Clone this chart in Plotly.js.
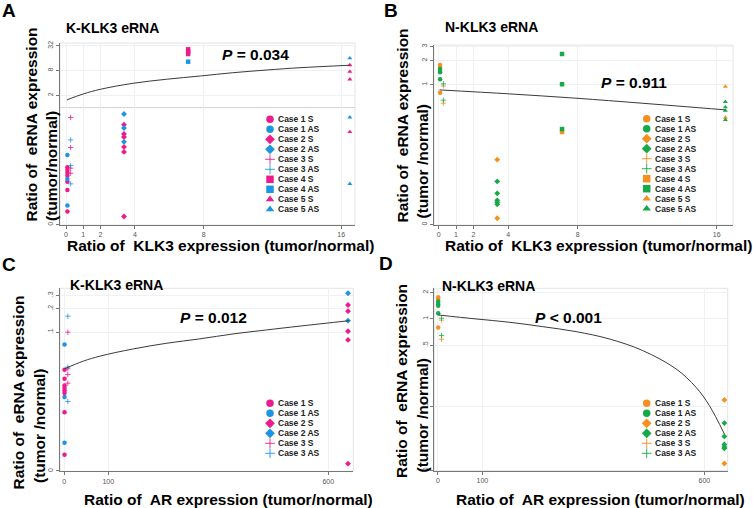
<!DOCTYPE html>
<html><head><meta charset="utf-8">
<script src="https://cdn.plot.ly/plotly-3.0.1.min.js"></script>
<style>html,body{margin:0;padding:0;background:#fff}#chart{width:753px;height:508px}</style>
</head><body><div id="chart"></div>
<script>
// ---------------- DATA ----------------
const caseNames = ['Case 1', 'Case 2', 'Case 3', 'Case 4', 'Case 5'];
const caseSymbols = ['circle', 'diamond', 'cross-thin-open', 'square', 'triangle-up'];

// x value of each case (ratio of KLK3 expression / ratio of AR expression)
const klk3X = [0.08, 3.37, 0.27, 7.1, 16.5];
const arX = [0.5, 645, 8];

// Panel A: K-KLK3 eRNA vs KLK3
const aS = [[0.035, 0.030, 0.0256, 0.0216, 0.0156, 0.0098, 0.0029],
            [0.384, 0.228, 0.192, 0.11, 0.083, 0.0022],
            [0.574, 0.106, 0.0333, 0.0251],
            [26.4, 23.1, 20.3],
            [10.9, 7.5, 4.9, 0.255]];
const aAS = [[0.070, 0.0182, 0.0041],
             [0.70, 0.318, 0.146],
             [0.163, 0.0385, 0.0138],
             [13.2],
             [16.0, 0.58, 0.0138]];
const aTrendX = [0.05, 1.0, 2.0, 3.9, 5.85, 7.8, 9.7, 11.7, 13.6, 16.5];
const aTrendY = [1.54, 2.15, 2.80, 3.92, 4.92, 5.90, 7.1, 8.28, 9.4, 10.8];

// Panel B: N-KLK3 eRNA vs KLK3
const bS = [[1.77, 1.69, 0.80],
            [0.118, 0.0221],
            [0.97, 0.593],
            [0.26],
            [0.953, 0.394]];
const bAS = [[1.58, 1.49, 1.44, 1.18],
             [0.0634, 0.0451, 0.0369, 0.0349, 0.0329],
             [1.03, 0.646],
             [2.42, 1.02, 0.283],
             [0.616, 0.529, 0.48, 0.368]];
const bTrendX = [0.05, 4.07, 7.9, 11.7, 16.5];
const bTrendY = [0.867, 0.774, 0.684, 0.593, 0.49];

// Panel C: K-KLK3 eRNA vs AR
const cS = [[0.0326, 0.0249, 0.0204, 0.0190, 0.0176, 0.0163, 0.0092, 0.0026],
            [0.225, 0.187, 0.103, 0.0795, 0.00199],
            [0.1, 0.0336, 0.0283, 0.0219]];
const cAS = [[0.0691, 0.0145, 0.0037],
             [0.319, 0.141],
             [0.161, 0.0353, 0.0127]];
const cTrendX = [0.5, 43, 81, 157, 233, 308, 384, 460, 536, 648];
const cTrendY = [0.0336, 0.0422, 0.049, 0.0608, 0.072, 0.082, 0.095, 0.107, 0.120, 0.141];

// Panel D: N-KLK3 eRNA vs AR
const dS = [[1.77, 1.69, 0.80],
            [0.118, 0.022],
            [0.97, 0.585]];
const dAS = [[1.58, 1.48, 1.42, 1.16],
             [0.064, 0.045, 0.0364, 0.0341, 0.0328],
             [1.02, 0.645]];
const dTrendX = [0.5, 85.6, 160.6, 235.8, 310.8, 385.8, 461, 536, 581, 611, 645];
const dTrendY = [1.11, 1.0, 0.917, 0.816, 0.716, 0.59, 0.434, 0.268, 0.165, 0.102, 0.048];

// tick labels
const klk3Ticks = [0, 1, 2, 4, 8, 16];
const arTicks = [0, 100, 600];
const aYTickVals = [2, 8, 32];       const aYTickText = ['2', '8', '32'];
const bYTickVals = [1, 2, 3];        const bYTickText = ['1', '2', '3'];
const cYTickVals = [0.1, 0.2, 0.3];  const cYTickText = ['.1', '.2', '.3'];
const dYTickVals = [0.1, 0.5, 1, 2]; const dYTickText = ['.1', '.5', '1', '2'];
// value at the bottom of each log axis, labelled "0"
const aZero = 0.00138, bZero = 0.0184, cZero = 0.0016, dZero = 0.01837;
const pTexts = ['0.034', '0.911', '0.012', '0.001'];

// ---------------- STYLE ----------------
const W = 753, H = 508;
const PX = x => x / W, PY = y => 1 - y / H;
const pinkBlue = ['#EC1C8C', '#1E95E4'];
const orangeGreen = ['#F5901F', '#16A94A'];
const FONT = 'Liberation Sans, Arial, sans-serif';

const panels = [
  {xa: 'x', ya: 'y', ax: 'xaxis', ay: 'yaxis', xs: klk3X, S: aS, AS: aAS, col: pinkBlue, tx: aTrendX, ty: aTrendY,
   xd: [60, 355], yd: [43, 225], xr: [-0.35, 16.8], yr: [Math.log10(aZero) - 0.004, 1.576], xt: klk3Ticks,
   ytv: [aZero].concat(aYTickVals), ytt: ['0'].concat(aYTickText),
   letter: 'A', letterPos: [9, 11], sub: 'K-KLK3 eRNA', subPos: [64, 27.5],
   p: '<b><i>P</i> = ' + pTexts[0] + '</b>', pPos: [220, 54],
   yt1: [30.5, 125], yt2: [51, 166], yt2text: '(tumor/normal)',
   xt1: 'Ratio of  KLK3 expression (tumor/normal)', xtPos: [220, 245],
   leg: [270, 119.3]},
  {xa: 'x2', ya: 'y2', ax: 'xaxis2', ay: 'yaxis2', xs: klk3X, S: bS, AS: bAS, col: orangeGreen, tx: bTrendX, ty: bTrendY,
   xd: [434, 733], yd: [45, 225], xr: [-0.27, 16.94], yr: [Math.log10(bZero) - 0.004, 0.4956], xt: klk3Ticks,
   ytv: [bZero].concat(bYTickVals), ytt: ['0'].concat(bYTickText),
   letter: 'B', letterPos: [391, 11], sub: 'N-KLK3 eRNA', subPos: [443, 26.5],
   p: '<b><i>P</i> = ' + pTexts[1] + '</b>', pPos: [598.5, 82.5],
   yt1: [401.5, 126], yt2: [421.5, 161], yt2text: '(tumor /normal)',
   xt1: 'Ratio of  KLK3 expression (tumor/normal)', xtPos: [598, 245],
   leg: [646.7, 118.7]},
  {xa: 'x3', ya: 'y3', ax: 'xaxis3', ay: 'yaxis3', xs: arX, S: cS, AS: cAS, col: pinkBlue, tx: cTrendX, ty: cTrendY,
   xd: [60, 353.3], yd: [288.3, 471.3], xr: [-9.8, 657], yr: [Math.log10(cZero) - 0.004, -0.432], xt: arTicks,
   ytv: [cZero].concat(cYTickVals), ytt: ['0'].concat(cYTickText),
   letter: 'C', letterPos: [9, 264], sub: 'K-KLK3 eRNA', subPos: [68, 284.5],
   p: '<b><i>P</i> = ' + pTexts[2] + '</b>', pPos: [177.5, 317],
   yt1: [17.5, 393], yt2: [39.5, 425.5], yt2text: '(tumor /normal)',
   xt1: 'Ratio of  AR expression (tumor/normal)', xtPos: [228, 499],
   leg: [270, 403.3]},
  {xa: 'x4', ya: 'y4', ax: 'xaxis4', ay: 'yaxis4', xs: arX, S: dS, AS: dAS, col: orangeGreen, tx: dTrendX, ty: dTrendY,
   xd: [434.3, 727.7], yd: [288.3, 470.7], xr: [-8.3, 652.5], yr: [Math.log10(dZero) - 0.004, 0.3514], xt: arTicks,
   ytv: [dZero].concat(dYTickVals), ytt: ['0'].concat(dYTickText),
   letter: 'D', letterPos: [386, 263], sub: 'N-KLK3 eRNA', subPos: [440, 285.5],
   p: '<b><i>P</i> &lt; ' + pTexts[3] + '</b>', pPos: [532.5, 317],
   yt1: [401.5, 381.5], yt2: [421.5, 415], yt2text: '(tumor /normal)',
   xt1: 'Ratio of  AR expression (tumor/normal)', xtPos: [600, 499],
   leg: [646.7, 403.3]}
];

const traces = [];
const annotations = [];
const shapes = [];
const layout = {
  width: W, height: H, margin: {l: 0, r: 0, t: 0, b: 0},
  paper_bgcolor: '#ffffff', plot_bgcolor: 'rgba(0,0,0,0)',
  showlegend: false, font: {family: FONT, color: '#000'},
  xaxis5: {domain: [0, 1], range: [0, W], visible: false, fixedrange: true},
  yaxis5: {domain: [0, 1], range: [H, 0], visible: false, fixedrange: true}
};

const ROW = 10;
panels.forEach(p => {
  layout[p.ax] = {
    domain: [PX(p.xd[0]), PX(p.xd[1])], range: p.xr, anchor: p.ya,
    tickmode: 'array', tickvals: p.xt, ticktext: p.xt.map(String),
    ticks: 'outside', ticklen: 3, tickcolor: '#777', tickwidth: 1,
    tickfont: {size: 7, color: '#555', family: FONT},
    showline: true, linecolor: '#777', linewidth: 1,
    showgrid: true, gridcolor: '#edf1f3', zeroline: false, fixedrange: true
  };
  layout[p.ay] = {
    domain: [PY(p.yd[1]), PY(p.yd[0])], type: 'log', range: p.yr, anchor: p.xa,
    tickmode: 'array', tickvals: p.ytv, ticktext: p.ytt, tickangle: -90,
    ticks: 'outside', ticklen: 3, tickcolor: '#777', tickwidth: 1,
    tickfont: {size: 7, color: '#555', family: FONT},
    showline: true, linecolor: '#777', linewidth: 1,
    showgrid: true, gridcolor: '#edf1f3', zeroline: false, fixedrange: true
  };
  // faint frame
  shapes.push({type: 'rect', xref: p.xa + ' domain', yref: p.ya + ' domain', x0: 0, x1: 1, y0: 0, y1: 1,
    line: {color: '#e4e4e4', width: 1}, layer: 'below'});

  // data points
  const n = p.S.length;
  for (let i = 0; i < n; i++) {
    [[p.S[i], 0, 'S'], [p.AS[i], 1, 'AS']].forEach(([vals, ci, tag]) => {
      const isPlus = caseSymbols[i].indexOf('cross') === 0;
      traces.push({
        type: 'scatter', mode: 'markers', xaxis: p.xa, yaxis: p.ya,
        name: caseNames[i] + ' ' + tag,
        x: vals.map(() => p.xs[i]), y: vals,
        marker: {symbol: caseSymbols[i], size: isPlus ? 3.8 : 4.5, color: p.col[ci],
                 line: {width: isPlus ? 0.8 : 0, color: p.col[ci]}},
        hoverinfo: 'x+y+name'
      });
    });
  }
  // trend line
  traces.push({type: 'scatter', mode: 'lines', xaxis: p.xa, yaxis: p.ya, x: p.tx, y: p.ty,
    line: {color: '#3a3a3a', width: 1, shape: 'spline', smoothing: 1}, hoverinfo: 'skip'});

  // custom legend
  let row = 0;
  for (let i = 0; i < n; i++) {
    ['S', 'AS'].forEach((tag, ci) => {
      const isPlus = caseSymbols[i].indexOf('cross') === 0;
      const ly = p.leg[1] + row * ROW;
      traces.push({type: 'scatter', mode: 'markers', xaxis: 'x5', yaxis: 'y5',
        x: [p.leg[0]], y: [ly],
        marker: {symbol: caseSymbols[i], size: isPlus ? 7 : 7.5, color: p.col[ci],
                 line: {width: isPlus ? 0.9 : 0, color: p.col[ci]}},
        hoverinfo: 'skip'});
      annotations.push({xref: 'paper', yref: 'paper', x: PX(p.leg[0] + 6), y: PY(ly), xanchor: 'left', yanchor: 'middle',
        text: '<b>' + caseNames[i] + ' ' + tag + '</b>', showarrow: false,
        font: {size: 8.5, color: '#222', family: FONT}});
      row++;
    });
  }

  // texts
  annotations.push({xref: 'paper', yref: 'paper', x: PX(p.letterPos[0]), y: PY(p.letterPos[1]), xanchor: 'center', yanchor: 'middle',
    text: '<b>' + p.letter + '</b>', showarrow: false, font: {size: 19, color: '#000', family: FONT}});
  annotations.push({xref: 'paper', yref: 'paper', x: PX(p.subPos[0]), y: PY(p.subPos[1]), xanchor: 'left', yanchor: 'middle',
    text: '<b>' + p.sub + '</b>', showarrow: false, font: {size: 14, color: '#000', family: FONT}});
  annotations.push({xref: 'paper', yref: 'paper', x: PX(p.pPos[0]), y: PY(p.pPos[1]), xanchor: 'left', yanchor: 'middle',
    text: p.p, showarrow: false, font: {size: 15.5, color: '#000', family: FONT}});
  annotations.push({xref: 'paper', yref: 'paper', x: PX(p.yt1[0]), y: PY(p.yt1[1]), xanchor: 'center', yanchor: 'middle',
    textangle: -90, text: '<b>Ratio of&nbsp; eRNA expression</b>', showarrow: false, font: {size: 15.5, color: '#000', family: FONT}});
  annotations.push({xref: 'paper', yref: 'paper', x: PX(p.yt2[0]), y: PY(p.yt2[1]), xanchor: 'center', yanchor: 'middle',
    textangle: -90, text: '<b>' + p.yt2text + '</b>', showarrow: false, font: {size: 15.5, color: '#000', family: FONT}});
  annotations.push({xref: 'paper', yref: 'paper', x: PX(p.xtPos[0]), y: PY(p.xtPos[1]), xanchor: 'center', yanchor: 'middle',
    text: '<b>' + p.xt1.replace('  ', '&nbsp; ') + '</b>', showarrow: false, font: {size: 15.5, color: '#000', family: FONT}});
});

// reference line at 1 in panel A
shapes.push({type: 'line', xref: 'x domain', yref: 'y', x0: 0, x1: 1, y0: 1, y1: 1,
  line: {color: '#d2d2d2', width: 1}, layer: 'below'});

layout.annotations = annotations;
layout.shapes = shapes;

Plotly.newPlot('chart', traces, layout, {displayModeBar: false, staticPlot: true});
</script>
</body></html>
